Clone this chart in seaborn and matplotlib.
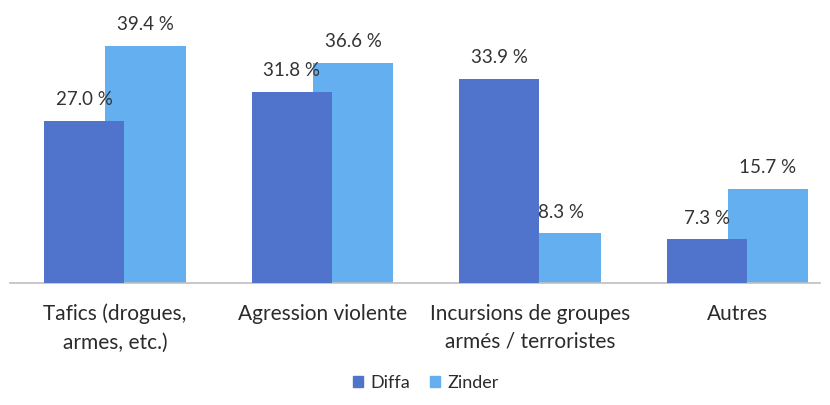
import numpy as np
import pandas as pd
import matplotlib
matplotlib.use("Agg")
import matplotlib.pyplot as plt
import seaborn as sns

categories = ["Tafics (drogues,\narmes, etc.)", "Agression violente",
              "Incursions de groupes\narmés / terroristes", "Autres"]
diffa = [27.0, 31.8, 33.9, 7.3]
zinder = [39.4, 36.6, 8.3, 15.7]
series = ["Diffa", "Zinder"]
colors = {"Diffa": "#5073cc", "Zinder": "#64aff0"}

df = pd.DataFrame({
    "cat": categories * 2,
    "val": diffa + zinder,
    "serie": ["Diffa"] * 4 + ["Zinder"] * 4,
})

sns.set_theme(style="white")
plt.rcParams["font.family"] = ["Lato", "DejaVu Sans"]

fig = plt.figure(figsize=(8.3, 4.05), dpi=100)
ax = fig.add_axes([10 / 830, 122 / 405, 810 / 830, 263 / 405])

sns.barplot(data=df, x="cat", y="val", hue="serie", hue_order=series,
            palette=colors, width=0.59, gap=-0.31, dodge=True, ax=ax,
            saturation=1, legend=False, edgecolor="none")

# Diffa drawn above Zinder where they overlap
for p in ax.containers[0]:
    p.set_zorder(3)
for p in ax.containers[1]:
    p.set_zorder(2)

for cont in ax.containers:
    ax.bar_label(cont, fmt="%.1f %%", padding=9, fontsize=13.5,
                 color="#333333", zorder=5)

ax.set_xlim(-0.506, 3.398)
ax.set_ylim(0, 43.7)
ax.set_yticks([])
ax.set_xlabel("")
ax.set_ylabel("")
for s in ["top", "right", "left"]:
    ax.spines[s].set_visible(False)
ax.spines["bottom"].set_color("#bfbfbf")
ax.spines["bottom"].set_linewidth(1.2)
ax.tick_params(axis="x", length=0, pad=15, labelsize=15, labelcolor="#2b2b2b")
for t in ax.get_xticklabels():
    t.set_linespacing(1.5)

handles = [plt.Rectangle((0, 0), 1, 1, color=colors[s]) for s in series]
fig.legend(handles, series, loc="center", bbox_to_anchor=(0.513, 1 - 383 / 405),
           ncol=2, frameon=False, fontsize=13, handlelength=0.55, handleheight=0.55,
           handletextpad=0.4, columnspacing=1.1, labelcolor="#2b2b2b")

fig.savefig("out.png", dpi=100)
